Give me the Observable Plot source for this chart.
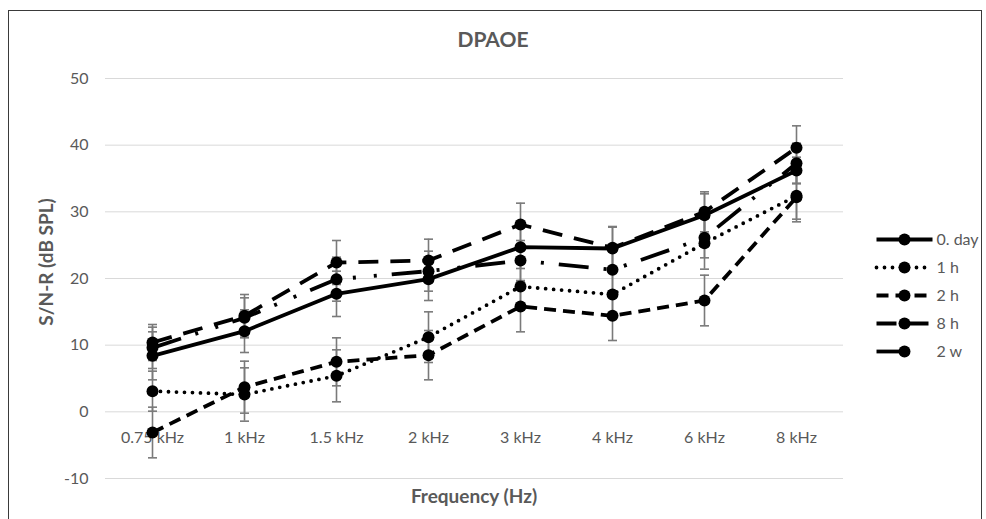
<!DOCTYPE html>
<html>
<head>
<meta charset="utf-8">
<script src="https://cdn.jsdelivr.net/npm/d3@7"></script>
<script src="https://cdn.jsdelivr.net/npm/@observablehq/plot@0.6"></script>
<style>
  body { margin: 0; background: #fff; font-family: Lato, "Open Sans", sans-serif; }
  #wrap { position: relative; width: 986px; height: 519px; overflow: hidden; background: #fff; }
  #frame { position: absolute; left: 8px; top: 10px; width: 974px; height: 530px; border: 1.5px solid #3a3a3a; box-sizing: border-box; }
  #chart, #legend { position: absolute; left: 0; top: 0; }
  #legend { left: 866px; top: 200px; }
  .title { position: absolute; left: 0; width: 986px; top: 26px; text-align: center; font-weight: bold; font-size: 21px; color: #595959; }
  .xtitle { position: absolute; left: 105px; width: 738px; top: 484px; text-align: center; font-weight: bold; font-size: 19px; color: #595959; }
  .ytitle { position: absolute; left: 45px; top: 262px; transform: translate(-50%, -50%) rotate(-90deg); white-space: nowrap; font-weight: bold; font-size: 19px; color: #595959; }
</style>
</head>
<body>
<div id="wrap">
  <div id="frame"></div>
  <div id="chart"></div>
  <div id="legend"></div>
  <div class="title">DPAOE</div>
  <div class="xtitle">Frequency (Hz)</div>
  <div class="ytitle">S/N-R (dB SPL)</div>
</div>
<script>
const frequencies = ["0.75 kHz", "1 kHz", "1.5 kHz", "2 kHz", "3 kHz", "4 kHz", "6 kHz", "8 kHz"];
const seriesNames = ["0. day", "1 h", "2 h", "8 h", "2 w"];
const day0Values = [8.4, 12.1, 17.7, 19.9, 24.7, 24.5, 29.5, 36.2];
const day0Errors = [3.6, 3.2, 3.4, 3.2, 3.2, 3.2, 3.2, 2.0];
const h1Values   = [3.1, 2.6, 5.4, 11.2, 18.8, 17.6, 25.3, 32.4];
const h1Errors   = [3.0, 4.0, 3.9, 3.8, 3.5, 3.5, 3.9, 3.5];
const h2Values   = [-3.1, 3.7, 7.5, 8.5, 15.8, 14.4, 16.7, 32.2];
const h2Errors   = [3.8, 3.9, 3.6, 3.7, 3.8, 3.7, 3.8, 3.7];
const h8Values   = [10.4, 14.4, 22.4, 22.7, 28.1, 24.6, 30.0, 39.6];
const h8Errors   = [2.7, 3.2, 3.3, 3.2, 3.2, 3.2, 3.0, 3.3];
const w2Values   = [9.6, 14.1, 19.9, 21.1, 22.7, 21.3, 26.1, 37.3];
const w2Errors   = [3.1, 3.0, 3.3, 3.0, 3.0, 3.2, 3.0, 3.0];
const yTicks = [-10, 0, 10, 20, 30, 40, 50];
const xAxisCrossing = 0;

const valueSets = [day0Values, h1Values, h2Values, h8Values, w2Values];
const errorSets = [day0Errors, h1Errors, h2Errors, h8Errors, w2Errors];
const styles = [
  {strokeDasharray: null, strokeLinecap: "butt"},
  {strokeDasharray: "0 8", strokeLinecap: "round"},
  {strokeDasharray: "12 7", strokeLinecap: "butt"},
  {strokeDasharray: "20 12", strokeLinecap: "butt"},
  {strokeDasharray: "30 15 3 18 3 15", strokeLinecap: "butt"}
];
const legendStyles = [
  styles[0], styles[1], styles[2], styles[3],
  {strokeDasharray: "30 40", strokeLinecap: "butt"}
];

const series = seriesNames.map((name, i) => ({
  name,
  style: styles[i],
  legendStyle: legendStyles[i],
  rows: frequencies.map((f, j) => ({
    freq: f, value: valueSets[i][j], lo: valueSets[i][j] - errorSets[i][j], hi: valueSets[i][j] + errorSets[i][j]
  }))
}));

const capSymbol = {
  draw(context, size) {
    const r = Math.sqrt(size / Math.PI);
    context.moveTo(-r, 0);
    context.lineTo(r, 0);
  }
};

const font = "Lato, 'Open Sans', sans-serif";
const marks = [
  Plot.gridY(yTicks, {stroke: "#d9d9d9", strokeOpacity: 1, strokeWidth: 1}),
  Plot.axisY(yTicks, {tickSize: 0, tickPadding: 17, fontSize: 16, label: null, tickFormat: d => String(d)}),
  Plot.text(frequencies, {x: d => d, y: () => xAxisCrossing, dy: 26, fontSize: 16, fill: "#595959"})
];
for (const s of series) {
  marks.push(
    Plot.ruleX(s.rows, {x: "freq", y1: "lo", y2: "hi", stroke: "#7a7a7a", strokeWidth: 1.6}),
    Plot.dot(s.rows, {x: "freq", y: "lo", r: 4.5, symbol: capSymbol, fill: "none", stroke: "#7a7a7a", strokeWidth: 1.6}),
    Plot.dot(s.rows, {x: "freq", y: "hi", r: 4.5, symbol: capSymbol, fill: "none", stroke: "#7a7a7a", strokeWidth: 1.6})
  );
}
for (const s of series) {
  marks.push(
    Plot.line(s.rows, {x: "freq", y: "value", stroke: "#000", strokeWidth: 3.8, strokeLinejoin: "round", ...s.style}),
    Plot.dot(s.rows, {x: "freq", y: "value", r: 6, fill: "#000", stroke: "none"})
  );
}

const chart = Plot.plot({
  width: 986,
  height: 519,
  marginLeft: 105,
  marginRight: 143,
  marginTop: 78,
  marginBottom: 41,
  style: {background: "transparent", color: "#595959", fontFamily: font},
  x: {type: "point", domain: frequencies, padding: 0.5, axis: null},
  y: {domain: [-10, 50], axis: null},
  marks
});
document.getElementById("chart").appendChild(chart);

const legendMarks = [];
for (const s of series) {
  const row = [s];
  legendMarks.push(
    Plot.link(row, {x1: () => 0, x2: () => 1, y1: d => d.name, y2: d => d.name, stroke: "#000", strokeWidth: 3.8, ...s.legendStyle}),
    Plot.dot(row, {x: () => 0.5, y: d => d.name, r: 6, fill: "#000"}),
    Plot.text(row, {x: () => 1, y: d => d.name, text: d => d.name, dx: 4, textAnchor: "start", fontSize: 16, fill: "#595959"})
  );
}
const legend = Plot.plot({
  width: 120,
  height: 190,
  margin: 0,
  style: {background: "transparent", fontFamily: font},
  x: {domain: [0, 1], range: [10, 66], axis: null},
  y: {type: "point", domain: seriesNames, range: [25, 165.7], axis: null},
  marks: legendMarks
});
document.getElementById("legend").appendChild(legend);
</script>
</body>
</html>
